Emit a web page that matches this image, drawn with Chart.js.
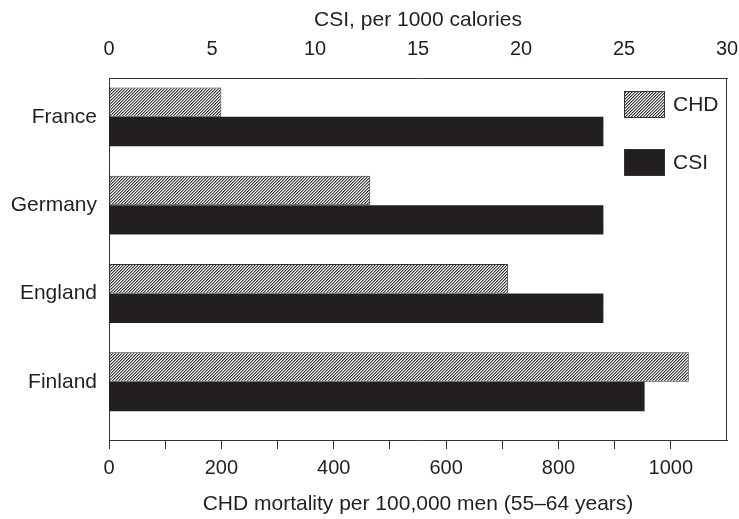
<!DOCTYPE html>
<html>
<head>
<meta charset="utf-8">
<script src="https://cdn.jsdelivr.net/npm/chart.js@4.4.1/dist/chart.umd.min.js"></script>
<style>
  html, body { margin: 0; padding: 0; background: #fff; }
  #wrap { width: 739px; height: 519px; position: relative; }
</style>
</head>
<body>
<div id="wrap"><canvas id="grafico"></canvas></div>
<script>
const paises = ["France", "Germany", "England", "Finland"];
const chdMortalidad = [200, 465, 710, 1032]; // per 100,000 men
const csiValores = [24, 24, 24, 26];         // per 1000 calories
const ticksCHD = [0, 200, 400, 600, 800, 1000];

const tinta = "#231f20";

// diagonal hatch for the CHD bars
function crearRayado() {
  const c = document.createElement("canvas");
  c.width = 3; c.height = 3;
  const g = c.getContext("2d");
  const img = g.createImageData(3, 3);
  for (let y = 0; y < 3; y++) {
    for (let x = 0; x < 3; x++) {
      const k = (x + y) % 3;
      const v = k === 0 ? 50 : (k === 1 ? 160 : 255);
      const p = (y * 3 + x) * 4;
      img.data[p] = v; img.data[p + 1] = v; img.data[p + 2] = v; img.data[p + 3] = 255;
    }
  }
  g.putImageData(img, 0, 0);
  return g.createPattern(c, "repeat");
}

const ctx = document.getElementById("grafico").getContext("2d");
const rayado = crearRayado();

// legend drawn inside the plot, top right
const leyendaInterna = {
  id: "leyendaInterna",
  afterDatasetsDraw(chart) {
    const { ctx, chartArea } = chart;
    ctx.save();
    // right side of the frame
    ctx.strokeStyle = "#333";
    ctx.lineWidth = 1;
    ctx.beginPath();
    ctx.moveTo(chartArea.right - 0.5, chartArea.top);
    ctx.lineTo(chartArea.right - 0.5, chartArea.bottom);
    ctx.stroke();

    chart.data.datasets.forEach((ds, i) => {
      const x = chartArea.right - 103;
      const y = chartArea.top + 13 + i * 58;
      ctx.fillStyle = ds.backgroundColor;
      ctx.fillRect(x, y, 41, 27);
      ctx.strokeStyle = "#333";
      ctx.strokeRect(x + 0.5, y + 0.5, 40, 26);
      ctx.fillStyle = tinta;
      ctx.font = "21px 'Liberation Sans', Arial, sans-serif";
      ctx.textBaseline = "middle";
      ctx.textAlign = "left";
      ctx.fillText(ds.label, x + 49, y + 14);
    });
    ctx.restore();
  }
};

Chart.defaults.font.family = "'Liberation Sans', Arial, sans-serif";
Chart.defaults.color = tinta;

// keep the horizontal axes from reserving extra side room
const ajustarLados = (s, alto) => {
  s.height = alto;
  s.paddingLeft = 0;
  s.paddingRight = 12;
};

new Chart(ctx, {
  type: "bar",
  data: {
    datasets: [{
      label: "CHD",
      data: chdMortalidad.map((v, i) => ({ x: v, y: i })),
      xAxisID: "x",
      backgroundColor: rayado,
      borderColor: "#333",
      borderWidth: 1,
      borderSkipped: false
    }, {
      label: "CSI",
      data: csiValores.map((v, i) => ({ x: v, y: i })),
      xAxisID: "x2",
      backgroundColor: tinta,
      borderWidth: 0
    }]
  },
  options: {
    indexAxis: "y",
    responsive: true,
    maintainAspectRatio: false,
    animation: false,
    categoryPercentage: 0.667,
    barPercentage: 1,
    layout: { padding: 0 },
    plugins: {
      legend: { display: false },
      tooltip: { enabled: false }
    },
    scales: {
      y: {
        type: "linear",
        reverse: true,
        min: -0.44,
        max: 3.66,
        offset: false,
        afterBuildTicks: s => { s.ticks = paises.map((p, i) => ({ value: i })); },
        afterFit: s => { s.width = 109; s.paddingTop = 0; s.paddingBottom = 0; },
        ticks: {
          autoSkip: false,
          padding: 12,
          font: { size: 21 },
          callback: v => paises[v]
        },
        grid: { display: false, drawTicks: false, offset: false },
        border: { display: true, color: "#333", width: 1 }
      },
      x: {
        type: "linear",
        position: "bottom",
        min: 0,
        max: 1100,
        afterFit: s => ajustarLados(s, 79),
        ticks: {
          stepSize: 100,
          autoSkip: false,
          maxRotation: 0,
          padding: 7,
          font: { size: 20 },
          callback: v => ticksCHD.includes(v) ? v : ""
        },
        grid: {
          drawOnChartArea: false,
          drawTicks: true,
          tickLength: 9,
          tickColor: c => (c.tick && c.tick.value === 1100) ? "rgba(0,0,0,0)" : "#333"
        },
        border: { display: true, color: "#333", width: 1 },
        title: {
          display: true,
          text: "CHD mortality per 100,000 men (55–64 years)",
          font: { size: 21 },
          padding: { top: 0, bottom: 2 }
        }
      },
      x2: {
        type: "linear",
        position: "top",
        min: 0,
        max: 30,
        afterFit: s => ajustarLados(s, 78),
        ticks: {
          stepSize: 5,
          autoSkip: false,
          maxRotation: 0,
          padding: 17,
          font: { size: 20 }
        },
        grid: { display: false, drawTicks: false },
        border: { display: true, color: "#333", width: 1 },
        title: {
          display: true,
          text: "CSI, per 1000 calories",
          font: { size: 21 },
          padding: { top: 8, bottom: 0 }
        }
      }
    }
  },
  plugins: [leyendaInterna]
});
</script>
</body>
</html>
